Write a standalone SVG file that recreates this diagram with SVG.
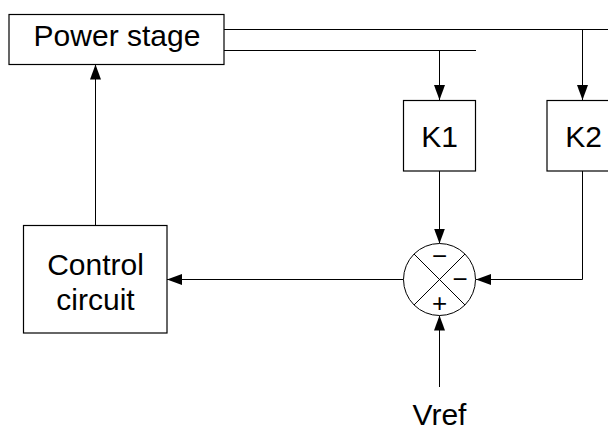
<svg xmlns="http://www.w3.org/2000/svg" width="608" height="432" viewBox="0 0 608 432">
<defs>
<marker id="arr" markerUnits="userSpaceOnUse" markerWidth="16" markerHeight="12" refX="15" refY="5.5" orient="auto">
<path d="M0,0 L15,5.5 L0,11 Z" fill="#000"/>
</marker>
<style>
.box{fill:#fff;stroke:#000;stroke-width:1.2}
.ln{fill:none;stroke:#000;stroke-width:1}
.t{font-family:"Liberation Sans",Arial,sans-serif;font-size:30px;fill:#000;text-anchor:middle}
.s{font-family:"Liberation Sans",Arial,sans-serif;font-size:26px;fill:#000;text-anchor:middle}
</style>
</defs>
<rect width="608" height="432" fill="#fff"/>
<g id="connectors">
<path class="ln" d="M224,29.5 H608"/>
<path class="ln" d="M224,50.5 H476"/>
<path class="ln" d="M582.5,29.5 V100" marker-end="url(#arr)"/>
<path class="ln" d="M439.5,50.5 V100" marker-end="url(#arr)"/>
<path class="ln" d="M439.5,171 V243.5" marker-end="url(#arr)"/>
<path class="ln" d="M582.5,171 V279.5 H476" marker-end="url(#arr)"/>
<path class="ln" d="M439.5,387 V315.5" marker-end="url(#arr)"/>
<path class="ln" d="M403.5,279.5 H167" marker-end="url(#arr)"/>
<path class="ln" d="M95.5,225 V64.5" marker-end="url(#arr)"/>
</g>
<g id="power-stage">
<rect class="box" x="9" y="14.5" width="215" height="50"/>
<text class="t" x="117" y="45.5">Power stage</text>
</g>
<g id="k1">
<rect class="box" x="403.5" y="100.5" width="72" height="70.5"/>
<text class="t" x="439.5" y="147">K1</text>
</g>
<g id="k2">
<rect class="box" x="547" y="100.5" width="73" height="70.5"/>
<text class="t" x="583.5" y="147">K2</text>
</g>
<g id="control-circuit">
<rect class="box" x="23.5" y="225.5" width="143.5" height="107.5"/>
<text class="t" x="95.5" y="275">Control</text>
<text class="t" x="95.5" y="310">circuit</text>
</g>
<g id="summing-junction">
<circle cx="439.5" cy="279.5" r="36" fill="#fff" stroke="#000" stroke-width="1"/>
<path class="ln" d="M414,254 L465,305 M465,254 L414,305"/>
<text class="s" x="439.5" y="265">−</text>
<text class="s" x="460" y="287.5">−</text>
<text class="s" x="439.5" y="312">+</text>
</g>
<g id="vref">
<text class="t" x="439.5" y="425">Vref</text>
</g>
</svg>
